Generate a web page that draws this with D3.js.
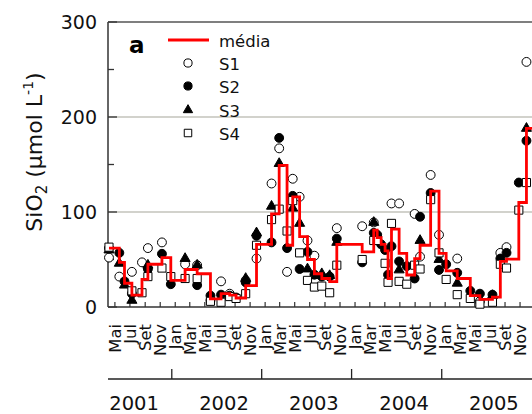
<!DOCTYPE html>
<html>
<head>
<meta charset="utf-8">
<script src="https://cdn.jsdelivr.net/npm/d3@7"></script>
<style>
  html, body { margin: 0; padding: 0; background: #fff; }
  svg { display: block; font-family: "DejaVu Sans", Verdana, sans-serif; }
</style>
</head>
<body>
<svg id="chart" width="532" height="414"></svg>
<script>
// Sampling dates (one per campaign) and SiO2 concentrations (µmol L-1) per station
const sampleDates = [
  "2001-04-21","2001-06-02","2001-06-23","2001-07-23","2001-09-02","2001-09-26",
  "2001-11-22","2001-12-28","2002-02-24","2002-04-14","2002-06-07","2002-07-20",
  "2002-08-24","2002-09-19","2002-10-28","2002-12-11","2003-02-10","2003-03-13",
  "2003-04-14","2003-05-07","2003-06-04","2003-07-06","2003-08-03","2003-09-02",
  "2003-10-04","2003-11-02","2004-02-13","2004-03-31","2004-04-14","2004-04-30",
  "2004-05-16","2004-05-28","2004-06-11","2004-07-12","2004-08-12","2004-09-13",
  "2004-10-05","2004-11-17","2004-12-21","2005-01-19","2005-03-05","2005-04-27",
  "2005-06-05","2005-07-26","2005-08-27","2005-09-21","2005-11-10","2005-12-11"
];
const s1 = [52,32,null,37,47,62, 68,null,45,44,7,27, 14,null,28,51,130,167,
            37,135,116,70,54,null, null,83,85,89,74,null, null,null,109,109,null,98,
            53,139,76,null,51,null, 6,null,57,63,null,258];
const s2 = [62,57,27,14,null,40, 56,24,null,23,12,13, 12,10,26,75,68,178,
            62,117,40,58,34,32, 32,72,47,78,76,66, 60,34,64,48,43,30,
            95,120,39,45,36,17, 14,13,51,57,131,175];
const s3 = [60,46,23,7,null,44, null,null,51,44,null,null, null,null,30,78,106,151,
            null,104,88,40,33,35, 33,68,null,89,null,null, null,null,null,39,null,null,
            70,null,50,null,25,null, null,12,null,null,null,188];
const s4 = [63,null,null,17,15,32, 41,32,30,30,6,5, 11,9,14,65,92,103,
            80,112,57,28,21,22, 15,44,50,70,70,null, 46,26,88,27,24,44,
            40,113,57,29,13,9, 3,5,45,41,102,131];
const media = [62,47,25,12.6,29,45, 52,28,39.5,35,8.5,14, 12.5,9.5,22.5,66,98,149,
               65,116,74,50,35,30, 26.7,66,58,81,73,66, 59,30,82,56.5,33.7,51,
               65,122,56.5,38,30,12, 8,10.5,48,50.5,110,188];

const yTicks = [0, 100, 200, 300];
const yMinorTicks = [50, 150, 250];
const monthAbbr = ["Jan","Fev","Mar","Abr","Mai","Jun","Jul","Ago","Set","Out","Nov","Dez"];
const years = [2001, 2002, 2003, 2004, 2005];
const seriesNames = ["S1", "S2", "S3", "S4"];

(function draw() {
  const parse = d3.timeParse("%Y-%m-%d");
  const dates = sampleDates.map(parse);

  const svg = d3.select("#chart");
  const plotLeft = 108, plotRight = 540, plotTop = 22, plotBottom = 307;

  const x = d3.scaleTime()
    .domain([parse("2001-04-17"), parse("2006-02-04")])
    .range([plotLeft, plotRight]);
  const y = d3.scaleLinear().domain([0, 300]).range([plotBottom, plotTop]);

  const axisColor = "#333";

  // horizontal grid lines
  svg.append("g").selectAll("line")
    .data(yTicks.filter(v => v > 0 && v < 300))
    .join("line")
    .attr("x1", plotLeft).attr("x2", plotRight)
    .attr("y1", d => y(d)).attr("y2", d => y(d))
    .attr("stroke", "#c3c3bb").attr("stroke-width", 1.6);

  // frame: left axis, top line, bottom axis
  svg.append("line").attr("x1", plotLeft).attr("x2", plotLeft)
    .attr("y1", plotTop).attr("y2", plotBottom)
    .attr("stroke", axisColor).attr("stroke-width", 1.5);
  svg.append("line").attr("x1", plotLeft).attr("x2", plotRight)
    .attr("y1", plotTop).attr("y2", plotTop)
    .attr("stroke", "#555").attr("stroke-width", 1.5);
  svg.append("line").attr("x1", plotLeft).attr("x2", plotRight)
    .attr("y1", plotBottom).attr("y2", plotBottom)
    .attr("stroke", axisColor).attr("stroke-width", 1.5);

  // y ticks (inward) and labels
  svg.append("g").selectAll("line")
    .data(yTicks)
    .join("line")
    .attr("x1", plotLeft).attr("x2", plotLeft + 9)
    .attr("y1", d => y(d)).attr("y2", d => y(d))
    .attr("stroke", axisColor).attr("stroke-width", 1.3);
  svg.append("g").selectAll("line")
    .data(yMinorTicks)
    .join("line")
    .attr("x1", plotLeft).attr("x2", plotLeft + 6)
    .attr("y1", d => y(d)).attr("y2", d => y(d))
    .attr("stroke", axisColor).attr("stroke-width", 1.3);
  svg.append("g").selectAll("text")
    .data(yTicks)
    .join("text")
    .attr("x", 97).attr("y", d => y(d))
    .attr("dy", "0.36em")
    .attr("text-anchor", "end")
    .attr("font-size", 19)
    .attr("fill", "#111")
    .text(d => d);

  // y-axis title
  const yTitle = svg.append("text")
    .attr("transform", `translate(42,152) rotate(-90)`)
    .attr("text-anchor", "middle")
    .attr("font-size", 22)
    .attr("fill", "#111");
  yTitle.append("tspan").text("SiO");
  yTitle.append("tspan").attr("font-size", 15).attr("dy", 5).text("2");
  yTitle.append("tspan").attr("dy", -5).text(" (µmol L");
  yTitle.append("tspan").attr("font-size", 14).attr("dy", -9).text("-1");
  yTitle.append("tspan").attr("dy", 9).text(")");

  // x ticks every two months, labelled with month abbreviations
  const monthTicks = d3.timeMonths(parse("2001-05-01"), parse("2005-12-01"), 2)
    .map(d => d3.timeDay.offset(d, 14));
  svg.append("g").selectAll("line")
    .data(monthTicks)
    .join("line")
    .attr("x1", d => x(d)).attr("x2", d => x(d))
    .attr("y1", plotBottom).attr("y2", plotBottom - 5)
    .attr("stroke", axisColor).attr("stroke-width", 1.2);
  svg.append("g").selectAll("text")
    .data(monthTicks)
    .join("text")
    .attr("transform", d => `translate(${x(d)},${plotBottom + 17}) rotate(-90)`)
    .attr("dy", "0.36em")
    .attr("text-anchor", "end")
    .attr("font-size", 16.4)
    .attr("fill", "#111")
    .text(d => monthAbbr[d.getMonth()]);

  // year band below the month labels
  const yearLineY = 379;
  svg.append("line").attr("x1", plotLeft).attr("x2", plotRight)
    .attr("y1", yearLineY).attr("y2", yearLineY)
    .attr("stroke", "#222").attr("stroke-width", 1.5);
  svg.append("g").selectAll("line")
    .data(years.slice(1).map(yr => new Date(yr, 0, 1)))
    .join("line")
    .attr("x1", d => x(d)).attr("x2", d => x(d))
    .attr("y1", yearLineY).attr("y2", yearLineY - 10)
    .attr("stroke", "#222").attr("stroke-width", 1.3);
  svg.append("g").selectAll("text")
    .data(years)
    .join("text")
    .attr("x", yr => x(new Date(yr, 7, 1)))
    .attr("y", 410)
    .attr("text-anchor", "middle")
    .attr("font-size", 19.5)
    .attr("fill", "#111")
    .text(yr => yr);

  // station markers
  const symbolDefs = [
    { type: d3.symbolCircle, size: 62, fill: "#fff" },
    { type: d3.symbolCircle, size: 62, fill: "#000" },
    { type: d3.symbolTriangle, size: 44, fill: "#000" },
    { type: d3.symbolSquare, size: 66, fill: "#fff" }
  ];
  const stations = [s1, s2, s3, s4];
  stations.forEach((vals, i) => {
    const pts = vals.map((v, k) => ({ date: dates[k], v })).filter(p => p.v !== null);
    const def = symbolDefs[i];
    svg.append("g").selectAll("path")
      .data(pts)
      .join("path")
      .attr("d", d3.symbol().type(def.type).size(def.size))
      .attr("transform", p => `translate(${x(p.date)},${y(p.v)})`)
      .attr("fill", def.fill)
      .attr("stroke", "#000")
      .attr("stroke-width", 1);
  });

  // mean step line, held after each campaign until the next one
  const mediaPts = media.map((v, k) => ({ date: dates[k], v }));
  mediaPts.push({ date: x.domain()[1], v: media[media.length - 1] });
  svg.append("path")
    .datum(mediaPts)
    .attr("d", d3.line().x(p => x(p.date)).y(p => y(p.v)).curve(d3.curveStepAfter))
    .attr("fill", "none")
    .attr("stroke", "#ff0000")
    .attr("stroke-width", 2.8)
    .attr("stroke-linejoin", "miter");

  // panel letter
  svg.append("text").attr("x", 129).attr("y", 53)
    .attr("font-size", 23).attr("font-weight", "bold").attr("fill", "#000")
    .text("a");

  // legend
  const legend = svg.append("g");
  const legendRowY = [40, 63, 86, 110, 133];
  legend.append("line").attr("x1", 168).attr("x2", 209)
    .attr("y1", legendRowY[0]).attr("y2", legendRowY[0])
    .attr("stroke", "#ff0000").attr("stroke-width", 2.8);
  legend.append("text").attr("x", 219).attr("y", legendRowY[0] + 7)
    .attr("font-size", 16.5).attr("fill", "#111").text("média");
  seriesNames.forEach((name, i) => {
    const def = symbolDefs[i];
    legend.append("path")
      .attr("d", d3.symbol().type(def.type).size(def.size * 0.85))
      .attr("transform", `translate(188,${legendRowY[i + 1]})`)
      .attr("fill", def.fill).attr("stroke", "#000").attr("stroke-width", 1);
    legend.append("text").attr("x", 219).attr("y", legendRowY[i + 1] + 7)
      .attr("font-size", 16.5).attr("fill", "#111").text(name);
  });
})();
</script>
</body>
</html>
